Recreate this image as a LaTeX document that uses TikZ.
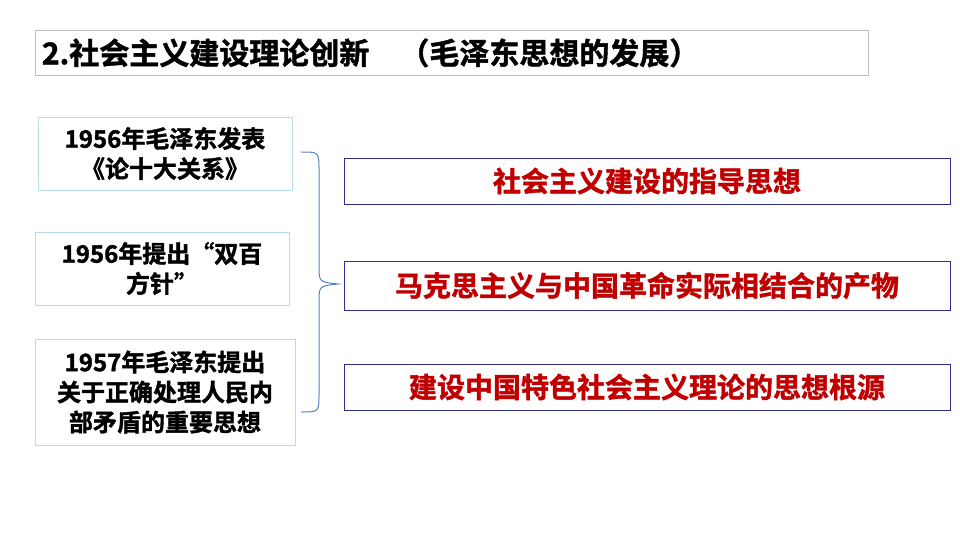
\documentclass[tikz,border=0pt]{standalone}
\usepackage{fontspec}
\setmainfont{Noto Sans CJK SC}[BoldFont={* Bold},BoldFeatures={FakeBold=1.5}]
\definecolor{titleline}{HTML}{BFBFBF}
\definecolor{leftline}{HTML}{B7DEE8}
\definecolor{rightline}{HTML}{2E2E8C}
\definecolor{redtext}{HTML}{C00000}
\definecolor{braceblue}{HTML}{4F81BD}

\begin{document}
\begin{tikzpicture}
[
    x=1pt, y=-1pt,
    leftbox/.style={draw=leftline, line width=0.8pt, align=center, font=\fontsize{24}{30}\selectfont\bfseries, inner sep=0pt},
    rightbox/.style={draw=rightline, line width=0.8pt, text=redtext, font=\fontsize{28}{32}\selectfont\bfseries, inner sep=0pt},
]
\useasboundingbox (0,0) rectangle (960,540);
% title
\node [draw=titleline, line width=0.8pt, anchor=north west, minimum width=833pt, minimum height=45pt, inner sep=4pt,
       text width=820pt, font=\fontsize{30}{34}\selectfont\bfseries] (title) at (35,30)
{2.社会主义建设理论创新\quad（毛泽东思想的发展）};
% left boxes
\node [leftbox, minimum width=254pt, minimum height=73pt] (y1) at (165,153.5)
{1956年毛泽东发表\\《论十大关系》};
\node [leftbox, minimum width=254pt, minimum height=73pt] (y2) at (162,268.5)
{1956年提出“双百\\方针”};
\node [leftbox, minimum width=260pt, minimum height=106pt] (y3) at (165,392)
{1957年毛泽东提出\\关于正确处理人民内\\部矛盾的重要思想};
% right boxes
\node [rightbox, minimum width=606pt, minimum height=46pt] (r1) at (647,181)
{社会主义建设的指导思想};
\node [rightbox, minimum width=606pt, minimum height=49pt] (r2) at (647,285.5)
{马克思主义与中国革命实际相结合的产物};
\node [rightbox, minimum width=606pt, minimum height=46pt] (r3) at (647,387)
{建设中国特色社会主义理论的思想根源};
% brace
\coordinate (btop) at (301,152);
\coordinate (bbot) at (301,412);
\coordinate (btip) at (338,284);
\draw [braceblue, line width=1pt]
    (btop) .. controls (319,152) .. (319,170) -- (319,266)
    .. controls (319,282) .. (btip)
    .. controls (319,286) .. (319,302) -- (319,394)
    .. controls (319,412) .. (bbot);
\end{tikzpicture}
\end{document}
